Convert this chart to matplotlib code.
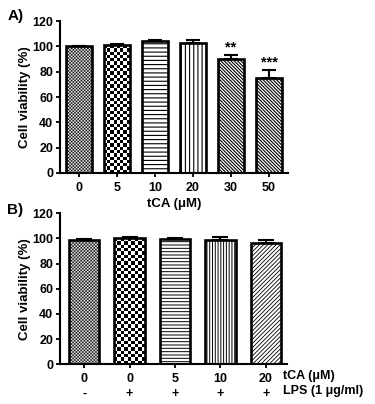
import matplotlib
matplotlib.use("Agg")
import matplotlib.pyplot as plt
import numpy as np

plt.rcParams['font.family'] = ['Liberation Sans', 'DejaVu Sans']
plt.rcParams['font.weight'] = 'bold'
plt.rcParams['hatch.linewidth'] = 0.8

# panel A data
a_labels = ["0", "5", "10", "20", "30", "50"]
a_values = [100, 101, 104, 103, 90, 75]
a_err = [0.3, 0.6, 1.0, 2.0, 3.0, 6.0]
a_stars = ["", "", "", "", "**", "***"]

# panel B data
b_tca = ["0", "0", "5", "10", "20"]
b_lps = ["-", "+", "+", "+", "+"]
b_values = [99, 100, 99.5, 99, 96.5]
b_err = [0.2, 1.2, 1.2, 2.5, 2.2]

fig = plt.figure(figsize=(3.75, 4.04), dpi=100)
axA = fig.add_axes([0.16, 0.5718, 0.608, 0.3762])
axB = fig.add_axes([0.16, 0.0983, 0.605, 0.3738])


def checker(ax, bar, cell_px):
    x0, y0 = bar.get_x(), bar.get_y()
    w, h = bar.get_width(), bar.get_height()
    p0 = ax.transData.transform((x0, y0))
    p1 = ax.transData.transform((x0 + w, y0 + h))
    nx = max(1, int(round((p1[0] - p0[0]) / cell_px)))
    ny = max(1, int(round((p1[1] - p0[1]) / cell_px)))
    arr = np.add.outer(np.arange(ny), np.arange(nx)) % 2
    im = ax.imshow(arr, cmap='gray', extent=(x0, x0 + w, y0, y0 + h),
                   aspect='auto', interpolation='antialiased', zorder=1.5)
    im.set_clip_path(bar)


def style(ax):
    for s in ['top', 'right']:
        ax.spines[s].set_visible(False)
    for s in ['left', 'bottom']:
        ax.spines[s].set_linewidth(1.5)
    ax.set_ylim(0, 120)
    ax.set_yticks(np.arange(0, 121, 20))
    ax.tick_params(width=1.3, length=3, labelsize=9, pad=2)
    ax.tick_params(axis='x', pad=3.5)
    ax.set_ylabel("Cell viability (%)", fontsize=9.5, fontweight='bold', labelpad=1)


def draw(ax, values, err, hatches, checkers, lw_hatch, xlim, capsize):
    x = np.arange(len(values))
    ax.set_xlim(*xlim)
    style(ax)
    bars = ax.bar(x, values, width=0.67, color='white', edgecolor='black',
                  linewidth=0, zorder=1)
    for b, h, lh in zip(bars, hatches, lw_hatch):
        if h:
            b.set_hatch(h)
            b.set_edgecolor('black')
            if hasattr(b, 'set_hatch_linewidth'):
                b.set_hatch_linewidth(lh)
    for b, c in zip(bars, checkers):
        if c:
            checker(ax, b, c)
    ax.bar(x, values, width=0.67, fill=False, edgecolor='black',
           linewidth=1.9, zorder=2)
    ax.errorbar(x, values, yerr=[np.zeros(len(err)), err], fmt='none',
                ecolor='black', elinewidth=1.5, capsize=capsize,
                capthick=1.5, zorder=1.8)
    return x


xa = draw(axA, a_values, a_err,
          [None, None, '----', '||||', '\\' * 10, '\\' * 10],
          [1.6, 3.3, 0, 0, 0, 0],
          [0.8, 0.8, 0.8, 0.8, 0.8, 0.8],
          (-0.5, 5.5), 4.7)
axA.set_xticks(xa)
axA.set_xticklabels(a_labels)
axA.set_xlabel("tCA (\u03bcM)", fontsize=9.5, fontweight='bold', labelpad=3)
for xi, v, e, s in zip(xa, a_values, a_err, a_stars):
    if s:
        axA.text(xi, v + e + 0.5, s, ha='center', va='bottom', fontsize=10.5,
                 fontweight='bold')

xb = draw(axB, b_values, b_err,
          [None, None, '-----', '||||||', '/' * 8],
          [1.6, 3.3, 0, 0, 0],
          [0.8, 0.8, 0.7, 0.7, 0.6],
          (-0.53, 4.46), 6)
axB.set_xticks(xb)
axB.set_xticklabels([t + "\n" + l for t, l in zip(b_tca, b_lps)],
                    linespacing=1.3)
axB.text(0.985, -0.04, "tCA (\u03bcM)\nLPS (1 \u03bcg/ml)", transform=axB.transAxes,
         ha='left', va='top', fontsize=9, fontweight='bold', linespacing=1.3)

fig.text(0.02, 0.95, "A)", fontsize=11, fontweight='bold')
fig.text(0.02, 0.47, "B)", fontsize=11, fontweight='bold')

fig.savefig("out.png", dpi=100)
